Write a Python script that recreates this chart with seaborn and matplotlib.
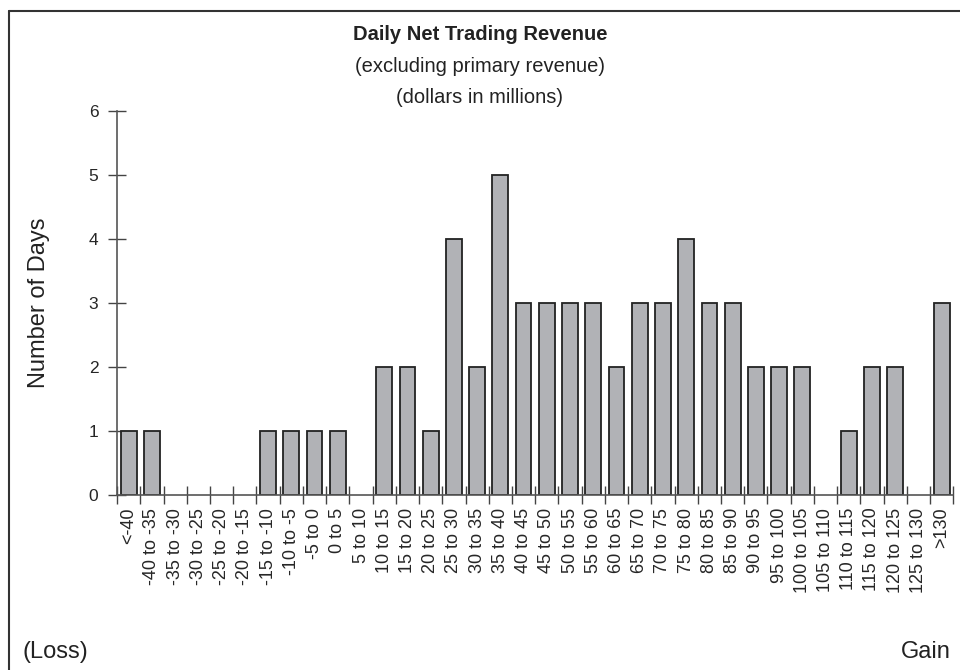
import pandas as pd
import numpy as np
import matplotlib.pyplot as plt
import seaborn as sns
from matplotlib.lines import Line2D

bins = ['<-40', '-40 to -35', '-35 to -30', '-30 to -25', '-25 to -20', '-20 to -15',
        '-15 to -10', '-10 to -5', '-5 to 0', '0 to 5', '5 to 10', '10 to 15',
        '15 to 20', '20 to 25', '25 to 30', '30 to 35', '35 to 40', '40 to 45',
        '45 to 50', '50 to 55', '55 to 60', '60 to 65', '65 to 70', '70 to 75',
        '75 to 80', '80 to 85', '85 to 90', '90 to 95', '95 to 100', '100 to 105',
        '105 to 110', '110 to 115', '115 to 120', '120 to 125', '125 to 130', '>130']
days = [1, 1, 0, 0, 0, 0,
        1, 1, 1, 1, 0, 2,
        2, 1, 4, 2, 5, 3,
        3, 3, 3, 2, 3, 3,
        4, 3, 3, 2, 2, 2,
        0, 1, 2, 2, 0, 3]

df = pd.DataFrame({'bin': bins, 'days': days})

sns.set_style('white')
plt.rcParams['font.family'] = ['Liberation Sans', 'DejaVu Sans']

fig = plt.figure(figsize=(9.6, 6.7), dpi=100)
ax = fig.add_axes([0.122, 0.261, 0.871, 0.573])

sns.barplot(data=df, x='bin', y='days', color='#b1b2b6', saturation=1,
            width=0.68, edgecolor='#222222', linewidth=1.3, ax=ax)
# empty bins show no outline
for p in ax.patches:
    if p.get_height() == 0:
        p.set_linewidth(0)

ax.set_xlim(-0.5, len(bins) - 0.5)
ax.set_ylim(0, 6)
ax.set_yticks(range(0, 7))
ax.set_yticklabels([str(i) for i in range(0, 7)], fontsize=12.5)

# category labels at bar centres, tick marks at bin edges
ax.set_xticks(np.arange(len(bins)))
ax.set_xticklabels(bins, rotation=90, fontsize=13)
ax.set_xticks(np.arange(len(bins) + 1) - 0.5, minor=True)
ax.tick_params(axis='x', which='major', bottom=True, length=0, pad=9)
ax.tick_params(axis='x', which='minor', bottom=True, direction='inout',
               length=13, width=1, color='#444444')
ax.tick_params(axis='y', left=True, direction='inout', length=13, width=1,
               color='#444444', pad=7)

for s in ['top', 'right']:
    ax.spines[s].set_visible(False)
for s in ['left', 'bottom']:
    ax.spines[s].set_color('#555555')
    ax.spines[s].set_linewidth(1.2)

ax.set_xlabel('')
ax.set_ylabel('Number of Days', fontsize=17, labelpad=28, color='#222222')

fig.text(0.5, 0.948, 'Daily Net Trading Revenue', ha='center', va='center',
         fontsize=14.5, fontweight='bold', color='#222222')
fig.text(0.5, 0.900, '(excluding primary revenue)', ha='center', va='center',
         fontsize=14.5, color='#222222')
fig.text(0.5, 0.855, '(dollars in millions)', ha='center', va='center',
         fontsize=14.5, color='#222222')
fig.text(0.023, 0.027, '(Loss)', ha='left', va='center', fontsize=17, color='#222222')
fig.text(0.99, 0.027, 'Gain', ha='right', va='center', fontsize=17, color='#222222')

# outer frame (top and left edges)
fig.add_artist(Line2D([0.0095, 1.0], [0.984, 0.984], color='#333333', lw=1.5))
fig.add_artist(Line2D([0.0095, 0.0095], [0.0, 0.984], color='#333333', lw=1.5))

fig.savefig('out.png', dpi=100)
